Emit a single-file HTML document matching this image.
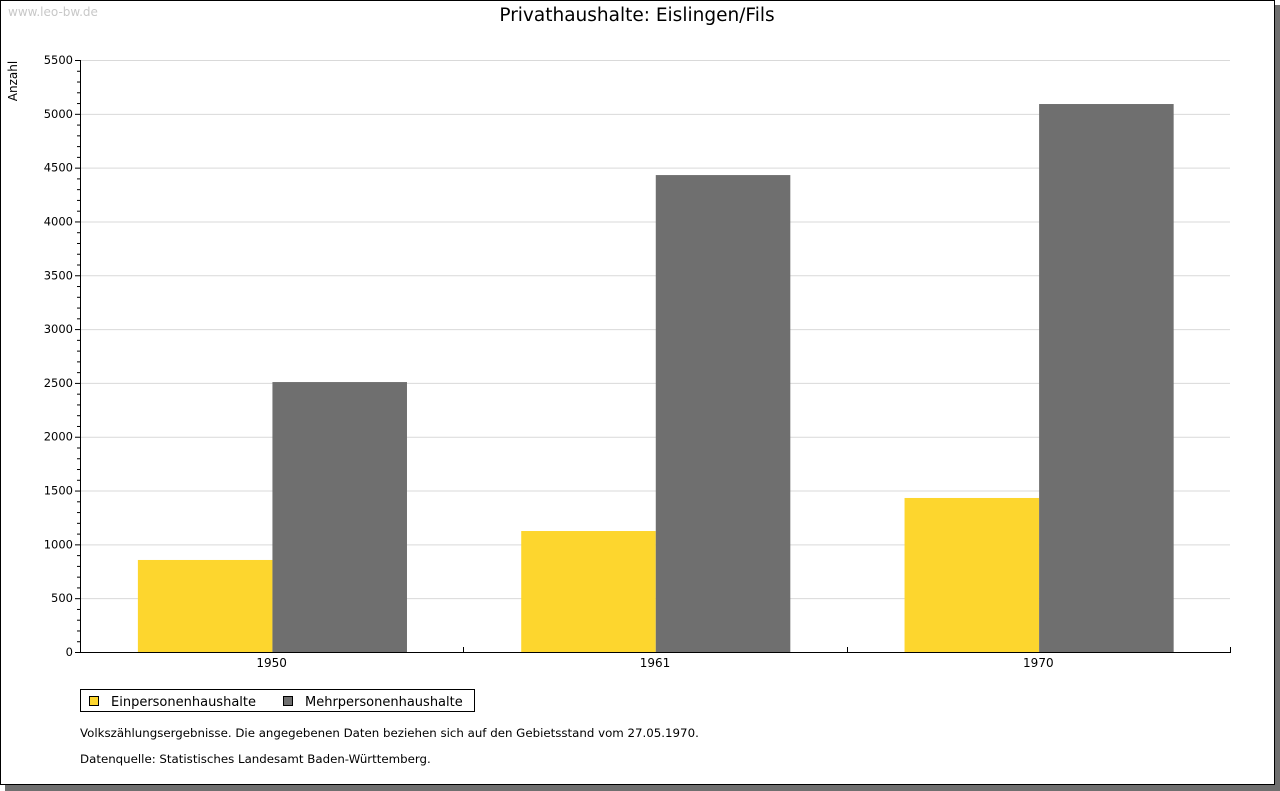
<!DOCTYPE html>
<html><head><meta charset="utf-8"><style>
body{margin:0;background:#fff;width:1280px;height:791px;overflow:hidden}
svg{display:block;font-family:"DejaVu Sans","Liberation Sans",sans-serif}
</style></head><body>
<svg id="chart" width="1280" height="791">
<rect x="5" y="5" width="1275" height="786" fill="#6f6f6f"/>
<rect x="0.5" y="0.5" width="1274" height="784" fill="#fff" stroke="#000"/>
<text x="8" y="16" font-size="12" fill="#c8c8c8">www.leo-bw.de</text>
<text x="637" y="21" font-size="18.5" text-anchor="middle" fill="#000">Privathaushalte: Eislingen/Fils</text>
<text transform="translate(17,81) rotate(-90)" font-size="12" text-anchor="middle">Anzahl</text>
<g id="grid"></g><g id="bars"></g><g id="axes"></g>
<g>
<rect x="80.5" y="689.5" width="394" height="22" fill="#fff" stroke="#000"/>
<rect x="89.5" y="696.5" width="9" height="9" fill="#fdd62e" stroke="#000"/>
<text x="111" y="706" font-size="13">Einpersonenhaushalte</text>
<rect x="283.5" y="696.5" width="9" height="9" fill="#6f6f6f" stroke="#000"/>
<text x="305" y="706" font-size="13">Mehrpersonenhaushalte</text>
</g>
<text x="80" y="737" font-size="11.8">Volkszählungsergebnisse. Die angegebenen Daten beziehen sich auf den Gebietsstand vom 27.05.1970.</text>
<text x="80" y="763" font-size="11.8">Datenquelle: Statistisches Landesamt Baden-Württemberg.</text>
</svg>
<script>
const categories=["1950","1961","1970"];
const einpersonen=[855,1124,1431];
const mehrpersonen=[2508,4431,5091];
const yTicks=[0,500,1000,1500,2000,2500,3000,3500,4000,4500,5000,5500];
const NS="http://www.w3.org/2000/svg";
const X0=80,X1=1230,Y0=652,Y1=60,YMAX=5500;
const y=v=>Y0-(v/YMAX)*(Y0-Y1);
const gw=(X1-X0)/categories.length;
const gx=i=>X0+i*gw;
function mk(tag,attrs,parent){const e=document.createElementNS(NS,tag);for(const k in attrs)e.setAttribute(k,attrs[k]);document.getElementById(parent).appendChild(e);return e;}
yTicks.forEach(t=>{
 if(t>0){const l=mk('line',{x1:X0,x2:X1,y1:y(t)+.5,y2:y(t)+.5,stroke:'#d9d9d9'},'grid');
 
 }
 const tk=mk('line',{x1:X0-5,x2:X0,y1:y(t)+.5,y2:y(t)+.5,stroke:'#000'},'axes');
 
 
 const tx=mk('text',{x:X0-7,y:y(t)+4,'font-size':11.5,'text-anchor':'end'},'axes');tx.textContent=t;
 
 
});
for(let v=100;v<YMAX;v+=100){if(v%500===0)continue;
 const m=mk('line',{x1:X0-3,x2:X0,y1:y(v)+.5,y2:y(v)+.5,stroke:'#000'},'axes');
 
 }
const bw=gw*0.351;
categories.forEach((c,i)=>{
 const s=gx(i)+gw*0.151;
 const a=mk('rect',{x:s,y:y(einpersonen[i]),width:bw,height:Y0-y(einpersonen[i]),fill:'#fdd62e'},'bars');
 
 
 const b=mk('rect',{x:s+bw,y:y(mehrpersonen[i]),width:bw,height:Y0-y(mehrpersonen[i]),fill:'#6f6f6f'},'bars');
 
 
 const t=mk('text',{x:gx(i)+gw/2,y:Y0+15,'font-size':12,'text-anchor':'middle'},'axes');t.textContent=c;
 
 
});
for(let i=1;i<=categories.length;i++){const k=mk('line',{x1:Math.round(gx(i))+.5,x2:Math.round(gx(i))+.5,y1:Y0-5,y2:Y0,stroke:'#000'},'axes');
 
 }
const ya=mk('line',{x1:X0+.5,x2:X0+.5,y1:Y1,y2:Y0+1,stroke:'#000'},'axes');


const xa=mk('line',{x1:X0,x2:X1+1,y1:Y0+.5,y2:Y0+.5,stroke:'#000'},'axes');


</script>
</body></html>
